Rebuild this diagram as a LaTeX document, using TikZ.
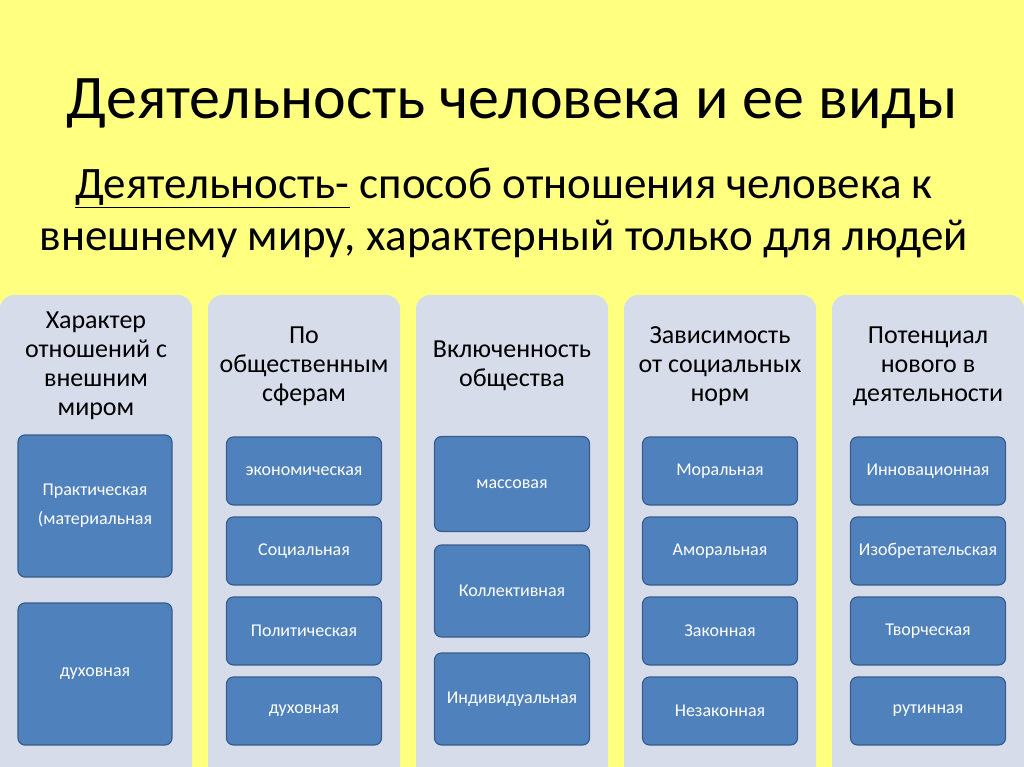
\documentclass[tikz,border=0pt]{standalone}
\usepackage{fontspec}
\setmainfont{Carlito}
\definecolor{bg}{RGB}{255,255,128}
\definecolor{panel}{RGB}{214,220,234}
\definecolor{boxb}{RGB}{79,129,189}
\definecolor{boxd}{RGB}{56,93,138}
\begin{document}
\begin{tikzpicture}[x=1pt,y=-1pt,
  panelbox/.style={fill=panel,rounded corners=14pt,draw=none},
  item/.style={fill=boxb,draw=boxd,line width=1.2pt,rounded corners=7pt,text=white,font=\fontsize{18}{29}\selectfont,align=center},
  head/.style={font=\fontsize{26}{29}\selectfont,align=center,text=black}]
\useasboundingbox (0,0) rectangle (1024,767);
\fill[bg] (0,0) rectangle (1024,767);
\node[font=\fontsize{62}{70}\selectfont] (title) at (512,104) {Деятельность человека и ее виды};
\node[font=\fontsize{45}{52}\selectfont,align=center] (sub) at (504,213) {\underline{Деятельность-} способ отношения человека к\\внешнему миру, характерный только для людей};
\foreach \i/\x in {1/0,2/208,3/416,4/624,5/832}{
  \fill[panelbox] (\x,295) rectangle (\x+192,785);
}
\node[head] (h1) at (96,366) {Характер\\отношений с\\внешним\\миром};
\node[head] (h2) at (304,366) {По\\общественным\\сферам};
\node[head] (h3) at (512,366) {Включенность\\общества};
\node[head] (h4) at (720,366) {Зависимость\\от социальных\\норм};
\node[head] (h5) at (928,366) {Потенциал\\нового в\\деятельности};
% col1
\node[item,minimum width=154pt,minimum height=142pt] (a1) at (95,506) {Практическая\\(материальная};
\node[item,minimum width=154pt,minimum height=142pt] (a2) at (95,674) {духовная};
% col2,4,5
\foreach \c/\x/\la/\lb/\lc/\ld in {b/304/экономическая/Социальная/Политическая/духовная, d/720/Моральная/Аморальная/Законная/Незаконная, e/928/Инновационная/Изобретательская/Творческая/рутинная}{
  \node[item,minimum width=155pt,minimum height=68pt] (\c1) at (\x,471) {\la};
  \node[item,minimum width=155pt,minimum height=68pt] (\c2) at (\x,551) {\lb};
  \node[item,minimum width=155pt,minimum height=68pt] (\c3) at (\x,631) {\lc};
  \node[item,minimum width=155pt,minimum height=68pt] (\c4) at (\x,711) {\ld};
}
% col3
\node[item,minimum width=155pt,minimum height=95pt] (c1) at (512,484) {массовая};
\node[item,minimum width=155pt,minimum height=92pt] (c2) at (512,591) {Коллективная};
\node[item,minimum width=155pt,minimum height=92pt] (c3) at (512,699) {Индивидуальная};
\end{tikzpicture}
\end{document}
